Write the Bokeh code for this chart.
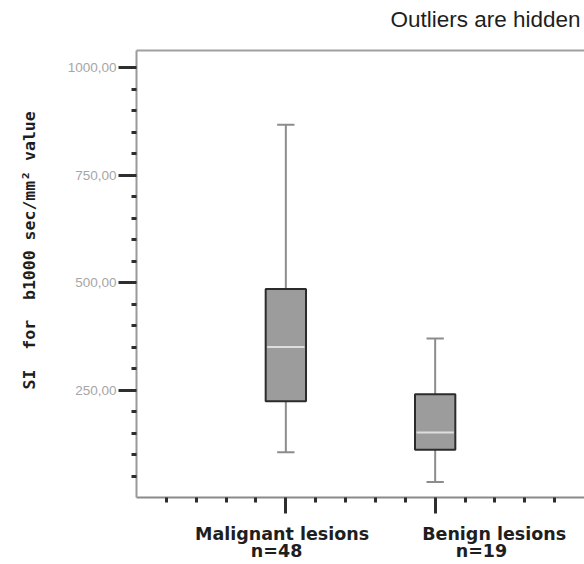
import numpy as np
from bokeh.plotting import figure
from bokeh.models import FixedTicker, LinearAxis, Range1d
from bokeh.embed import file_html
from bokeh.resources import INLINE

# Box-plot summary per lesion group (outliers not drawn)
categories = ["Malignant lesions", "Benign lesions"]
counts = ["n=48", "n=19"]
lower_whisker = [105, 36]
q1 = [224, 111]
median = [350, 151]
q3 = [485, 240]
upper_whisker = [867, 370]

y_ticks = [250, 500, 750, 1000]
y_tick_labels = ["250,00", "500,00", "750,00", "1000,00"]

y_caption = "SI\u00a0\u00a0for\u00a0\u00a0b1000 sec/mm\u00b2 value"
note = "Outliers are hidden"

xs = np.arange(1, len(categories) + 1)

p = figure(
    width=584, height=564,
    x_range=Range1d(0, 3), y_range=Range1d(0, 1040),
    output_backend="svg", toolbar_location=None,
    min_border_left=136, min_border_right=0,
    min_border_top=50, min_border_bottom=67,
)
p.xgrid.visible = False
p.ygrid.visible = False
p.outline_line_color = None
p.background_fill_color = "white"
p.border_fill_color = "white"

# x axis: ticks at each group, minor ticks every 0.2
xa = p.xaxis[0]
xa.ticker = FixedTicker(ticks=list(xs),
                        minor_ticks=[round(0.2 * k, 1) for k in range(1, 15) if k % 5 != 0])
xa.major_label_overrides = {int(v): "" for v in xs}
xa.major_label_standoff = 0
xa.axis_line_color = "#8a8a8a"
xa.axis_line_width = 2
xa.major_tick_in = 0
xa.major_tick_out = 16
xa.major_tick_line_width = 3
xa.major_tick_line_color = "#2e2e2e"
xa.minor_tick_in = 0
xa.minor_tick_out = 5
xa.minor_tick_line_width = 3
xa.minor_tick_line_color = "#2e2e2e"


def caption_axis(positions, texts, standoff, font, size, style="bold",
                 orientation="horizontal", line_color=None):
    """A tick-less axis that only carries caption text at given positions."""
    return LinearAxis(ticker=FixedTicker(ticks=positions, minor_ticks=[]),
                      major_label_overrides=dict(zip(positions, texts)),
                      major_label_orientation=orientation,
                      axis_line_color=line_color, axis_line_width=2,
                      major_tick_line_color=None, minor_tick_line_color=None,
                      major_tick_out=0, minor_tick_out=0,
                      major_label_standoff=standoff,
                      major_label_text_font=font,
                      major_label_text_font_style=style,
                      major_label_text_font_size=size,
                      major_label_text_color="#1e1e1e")


# group names and sample sizes beneath the axis
p.add_layout(caption_axis([float(x) + d for x, d in zip(xs, [-0.025, 0.395])],
                          categories, 10, "DejaVu Sans", "17.5px"), "below")
p.add_layout(caption_axis([float(x) + d for x, d in zip(xs, [-0.062, 0.31])],
                          counts, -6, "DejaVu Sans", "17.5px"), "below")

# y axis with comma-decimal labels
ya = p.yaxis[0]
ya.ticker = FixedTicker(ticks=y_ticks,
                        minor_ticks=[v for v in range(50, 1000, 50) if v not in y_ticks])
ya.major_label_overrides = dict(zip(y_ticks, y_tick_labels))
ya.major_label_text_font = "Liberation Sans"
ya.major_label_text_font_size = "13.5px"
ya.major_label_text_color = "#a6a6a6"
ya.major_label_standoff = 2
ya.axis_line_color = "#9a9a9a"
ya.axis_line_width = 2
ya.major_tick_in = 0
ya.major_tick_out = 18
ya.major_tick_line_width = 3
ya.major_tick_line_color = "#2e2e2e"
ya.minor_tick_in = 0
ya.minor_tick_out = 5
ya.minor_tick_line_width = 3
ya.minor_tick_line_color = "#2e2e2e"

# rotated quantity caption, outside the value labels
p.add_layout(caption_axis([575], [y_caption], 25, "DejaVu Sans Mono", "16.5px",
                          orientation="vertical"), "left")

# top frame line, carrying the note at the upper right
p.add_layout(caption_axis([2.337], [note], 19, "Liberation Sans", "22.5px",
                          style="normal", line_color="#a0a0a0"), "above")

# whiskers and caps
p.segment(x0=xs, y0=q3, x1=xs, y1=upper_whisker, line_color="#8c8c8c", line_width=2)
p.segment(x0=xs, y0=q1, x1=xs, y1=lower_whisker, line_color="#8c8c8c", line_width=2)
cap = 0.058
p.segment(x0=xs - cap, y0=upper_whisker, x1=xs + cap, y1=upper_whisker,
          line_color="#8c8c8c", line_width=2)
p.segment(x0=xs - cap, y0=lower_whisker, x1=xs + cap, y1=lower_whisker,
          line_color="#8c8c8c", line_width=2)

# boxes and medians
p.vbar(x=xs, width=0.27, bottom=q1, top=q3,
       fill_color="#9c9c9c", line_color="#2b2b2b", line_width=2)
half = 0.125
p.segment(x0=xs - half, y0=median, x1=xs + half, y1=median,
          line_color="#dedede", line_width=2)

open("out.html", "w").write(file_html(p, INLINE))
